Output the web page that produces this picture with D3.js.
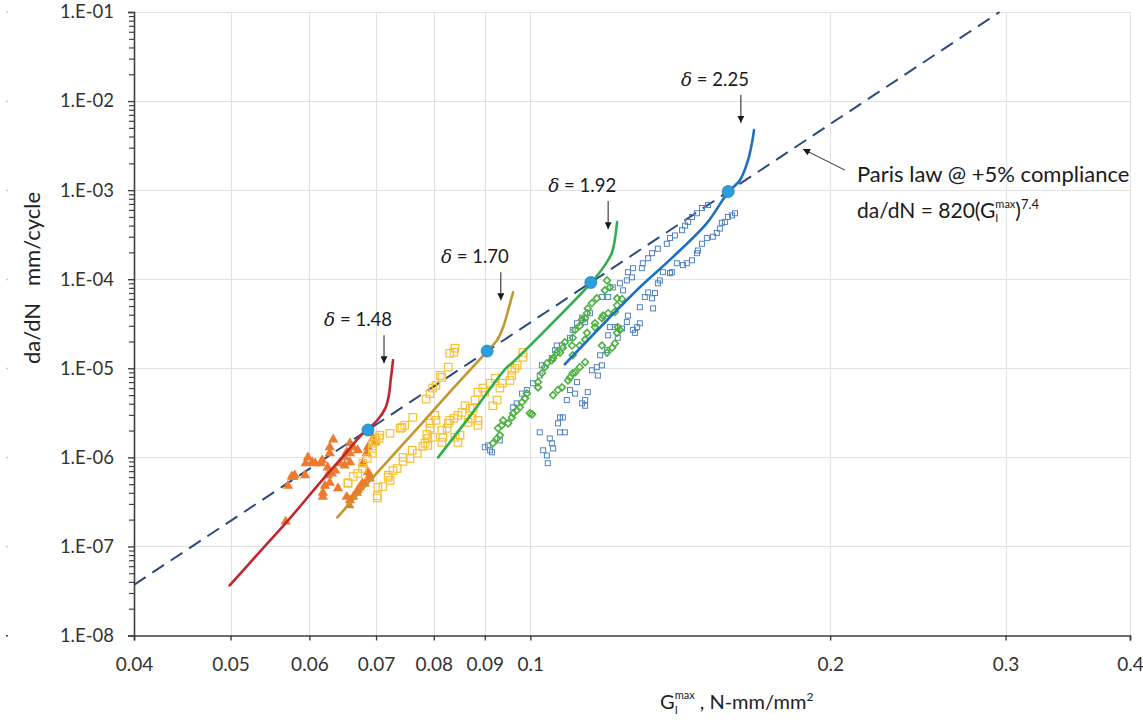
<!DOCTYPE html>
<html>
<head>
<meta charset="utf-8">
<script src="https://cdn.jsdelivr.net/npm/d3@7"></script>
<style>
  html, body { margin: 0; padding: 0; background: #fff; }
  svg { display: block; font-family: Lato, "Liberation Sans", sans-serif; }
</style>
</head>
<body>
<svg id="chart" width="1143" height="723"></svg>
<script>
// ---- axis values ----
const xTickValues = [0.04, 0.05, 0.06, 0.07, 0.08, 0.09, 0.1, 0.2, 0.3, 0.4];
const yDecades = [1e-8, 1e-7, 1e-6, 1e-5, 1e-4, 1e-3, 1e-2, 1e-1];
const yTickLabels = ["1.E-08", "1.E-07", "1.E-06", "1.E-05", "1.E-04", "1.E-03", "1.E-02", "1.E-01"];

// ---- Paris law @ +5% compliance: da/dN = C (G)^m ----
const parisC = 820;
const parisM = 7.4;
const parisRange = [0.04, 0.4];

// ---- onset points on the Paris law line, one per delta ----
const deltaLabels = ["1.48", "1.70", "1.92", "2.25"];
const onsetG = [0.0687, 0.0905, 0.115, 0.158];
// arrow tips above each curve end [G, da/dN]
const arrowTips = [[0.0713, 1.14e-5], [0.0934, 5.8e-5], [0.1197, 3.65e-4], [0.1627, 5.7e-3]];
const parisArrowTip = [0.1878, 2.89e-3];

// ---- fitted curves ----
const line148G = [0.0499, 0.0533, 0.0570, 0.0615, 0.0651, 0.0679, 0.0702, 0.0715, 0.0721, 0.0724, 0.0728];
const line148Rate = [3.65e-8, 8.3e-8, 1.91e-7, 5.2e-7, 1.08e-6, 1.86e-6, 2.61e-6, 3.55e-6, 4.97e-6, 7.33e-6, 1.23e-5];

const line170G = [0.0640, 0.0695, 0.0775, 0.0836, 0.0905, 0.0926, 0.0939, 0.0950, 0.0961];
const line170Rate = [2.12e-7, 5.96e-7, 2.29e-6, 5.9e-6, 1.55e-5, 2.07e-5, 2.89e-5, 4.49e-5, 7.14e-5];

const line192G = [0.0808, 0.0874, 0.0943, 0.0958, 0.1054, 0.1150, 0.1188, 0.1208, 0.1222];
const line192Rate = [1.0e-6, 3.12e-6, 9.74e-6, 1.14e-5, 3.28e-5, 9.02e-5, 1.44e-4, 2.01e-4, 4.37e-4];

const line225G = [0.1083, 0.1194, 0.1288, 0.1390, 0.1504, 0.1580, 0.1624, 0.1654, 0.1669, 0.1677];
const line225Rate = [1.11e-5, 3.46e-5, 8.13e-5, 1.77e-4, 4.26e-4, 9.5e-4, 1.30e-3, 2.17e-3, 3.37e-3, 4.72e-3];

// ---- test data [G, da/dN] ----
const pts148 = [
  [0.0568, 1.9e-7], [0.0571, 4.8e-7], [0.0576, 6.1e-7], [0.0580, 6.3e-7], [0.0578, 6.0e-7],
  [0.0594, 6.3e-7], [0.0595, 8.6e-7], [0.0598, 1.0e-6], [0.0604, 8.8e-7], [0.0608, 8.6e-7],
  [0.0616, 8.6e-7], [0.0618, 9.3e-7], [0.0626, 7.7e-7], [0.0629, 1.11e-6], [0.0629, 1.30e-6],
  [0.0634, 1.59e-6], [0.0626, 6.3e-7], [0.0622, 4.8e-7], [0.0619, 4.0e-7], [0.0619, 3.6e-7],
  [0.0629, 5.2e-7], [0.0632, 6.6e-7], [0.0637, 7.1e-7], [0.0641, 4.5e-7], [0.0644, 8.6e-7],
  [0.0651, 1.0e-6], [0.0654, 1.14e-6], [0.0659, 1.44e-6], [0.0664, 1.30e-6], [0.0671, 1.20e-6],
  [0.0659, 8.8e-7], [0.0651, 8.1e-7], [0.0659, 1.11e-6], [0.0685, 1.11e-6], [0.0687, 1.30e-6],
  [0.0695, 1.63e-6], [0.0698, 1.47e-6], [0.0679, 8.6e-7], [0.0687, 6.8e-7], [0.0682, 5.1e-7],
  [0.0678, 5.1e-7], [0.0671, 4.3e-7], [0.0670, 4.0e-7], [0.0664, 3.6e-7], [0.0659, 3.3e-7],
  [0.0658, 2.9e-7], [0.0654, 3.6e-7], [0.0674, 4.6e-7], [0.0690, 5.8e-7], [0.0690, 6.3e-7]
];

const pts170 = [
  [0.0840, 1.68e-5], [0.0830, 1.47e-5], [0.0838, 1.51e-5], [0.0827, 1.03e-5], [0.0812, 8.3e-6],
  [0.0815, 7.9e-6], [0.0804, 6.4e-6], [0.0798, 6.0e-6], [0.0793, 5.2e-6], [0.0786, 4.5e-6],
  [0.0762, 2.81e-6], [0.0743, 2.17e-6], [0.0748, 2.29e-6], [0.0723, 1.86e-6], [0.0705, 1.63e-6],
  [0.0698, 1.68e-6], [0.0695, 1.44e-6], [0.0694, 1.26e-6], [0.0694, 1.11e-6], [0.0679, 8.6e-7],
  [0.0678, 7.5e-7], [0.0664, 6.1e-7], [0.0656, 5.1e-7], [0.0671, 6.6e-7], [0.0703, 4.6e-7],
  [0.0711, 4.7e-7], [0.0702, 3.7e-7], [0.0702, 3.5e-7], [0.0720, 6.3e-7], [0.0728, 7.1e-7],
  [0.0735, 7.5e-7], [0.0745, 1.0e-6], [0.0745, 9.0e-7], [0.0761, 1.20e-6], [0.0770, 1.11e-6],
  [0.0784, 1.44e-6], [0.0780, 1.33e-6], [0.0789, 1.63e-6], [0.0787, 1.81e-6], [0.0793, 2.12e-6],
  [0.0793, 2.41e-6], [0.0804, 2.60e-6], [0.0802, 2.96e-6], [0.0815, 2.01e-6], [0.0817, 1.68e-6],
  [0.0827, 2.41e-6], [0.0830, 2.60e-6], [0.0838, 2.74e-6], [0.0846, 2.96e-6], [0.0854, 3.2e-6],
  [0.0860, 3.8e-6], [0.0870, 3.55e-6], [0.0880, 4.4e-6], [0.0874, 2.74e-6], [0.0886, 2.29e-6],
  [0.0866, 2.47e-6], [0.0850, 1.77e-6], [0.0846, 1.47e-6], [0.0840, 1.68e-6], [0.0825, 2.12e-6],
  [0.0815, 1.47e-6], [0.0798, 1.68e-6], [0.0789, 1.36e-6], [0.0886, 5.4e-6], [0.0896, 6.0e-6],
  [0.0900, 5.4e-6], [0.0911, 6.8e-6], [0.0922, 7.7e-6], [0.0917, 3.8e-6], [0.0926, 4.4e-6],
  [0.0932, 6.0e-6], [0.0937, 6.8e-6], [0.0954, 7.3e-6], [0.0958, 8.3e-6], [0.0958, 9.5e-6],
  [0.0965, 1.0e-5], [0.0983, 1.51e-5], [0.0983, 1.33e-5], [0.0970, 1.08e-5], [0.0757, 9.7e-7],
  [0.0686, 9.7e-7], [0.0700, 1.55e-6], [0.0706, 1.77e-6], [0.0740, 2.12e-6], [0.0720, 6.0e-7],
  [0.0723, 5.5e-7], [0.0656, 5.2e-7], [0.0876, 3.55e-6], [0.0886, 2.60e-6]
];

const pts192 = [
  [0.0917, 1.44e-6], [0.0926, 1.63e-6], [0.0932, 1.77e-6], [0.0928, 2.12e-6], [0.0936, 2.29e-6],
  [0.0939, 2.6e-6], [0.0950, 2.41e-6], [0.0958, 2.81e-6], [0.0961, 3.12e-6], [0.0969, 3.37e-6],
  [0.0976, 3.65e-6], [0.0981, 4.15e-6], [0.0988, 4.6e-6], [0.0992, 5.2e-6], [0.0999, 3.12e-6],
  [0.1004, 3.04e-6], [0.1018, 6.1e-6], [0.1018, 7.0e-6], [0.1027, 8.8e-6], [0.1034, 1.03e-5],
  [0.1039, 1.14e-5], [0.1051, 1.23e-5], [0.1054, 1.3e-5], [0.1063, 1.5e-5], [0.1071, 1.5e-5],
  [0.1078, 1.7e-5], [0.1083, 1.96e-5], [0.1101, 1.8e-5], [0.1103, 2.2e-5], [0.1109, 2.7e-5],
  [0.1121, 3.0e-5], [0.1127, 3.5e-5], [0.1135, 3.65e-5], [0.1140, 4.15e-5], [0.1142, 4.7e-5],
  [0.1153, 5.4e-5], [0.1166, 6.1e-5], [0.1188, 7.5e-5], [0.1194, 9.7e-5], [0.1202, 8.1e-5],
  [0.1054, 5.0e-6], [0.1066, 5.7e-6], [0.1076, 6.1e-6], [0.1091, 7.3e-6], [0.1096, 7.9e-6],
  [0.1103, 8.8e-6], [0.1109, 9.0e-6], [0.1121, 1.03e-5], [0.1135, 1.17e-5], [0.1103, 1.4e-5],
  [0.1121, 1.8e-5], [0.1135, 2.1e-5], [0.1140, 2.5e-5], [0.1161, 2.9e-5], [0.1161, 3.2e-5],
  [0.1180, 3.65e-5], [0.1183, 3.9e-5], [0.1197, 4.15e-5], [0.1216, 4.3e-5], [0.1222, 5.1e-5],
  [0.1222, 6.1e-5], [0.1236, 6.0e-5], [0.1230, 2.7e-5], [0.1224, 2.9e-5], [0.1222, 2.5e-5],
  [0.1216, 1.9e-5], [0.1208, 1.7e-5], [0.1194, 1.5e-5], [0.1180, 1.8e-5]
];

const pts225 = [
  [0.0900, 1.30e-6], [0.0907, 1.36e-6], [0.0915, 1.14e-6], [0.0911, 1.20e-6], [0.0932, 1.55e-6],
  [0.0961, 3.65e-6], [0.0969, 4.04e-6], [0.0981, 5.2e-6], [0.0992, 5.7e-6], [0.1006, 6.8e-6],
  [0.1022, 8.3e-6], [0.1027, 1.08e-5], [0.1051, 1.3e-5], [0.1059, 1.6e-5], [0.1063, 1.8e-5],
  [0.1076, 1.8e-5], [0.1096, 2.2e-5], [0.1103, 2.7e-5], [0.1114, 3.2e-5], [0.1127, 3.7e-5],
  [0.1135, 3.3e-5], [0.1148, 4.15e-5], [0.1180, 6.3e-5], [0.1197, 6.3e-5], [0.1210, 8.1e-5],
  [0.1230, 9.0e-5], [0.1239, 7.5e-5], [0.1250, 9.7e-5], [0.1253, 1.2e-4], [0.1265, 1.05e-4],
  [0.1268, 1.33e-4], [0.1294, 1.33e-4], [0.1297, 1.51e-4], [0.1313, 1.72e-4], [0.1325, 1.96e-4],
  [0.1343, 2.2e-4], [0.1371, 2.5e-4], [0.1381, 2.9e-4], [0.1397, 3.1e-4], [0.1420, 3.55e-4],
  [0.1430, 4.0e-4], [0.1440, 4.4e-4], [0.1453, 5.0e-4], [0.1470, 5.5e-4], [0.1487, 6.3e-4],
  [0.1508, 6.8e-4],
  [0.1022, 1.91e-6], [0.1030, 1.20e-6], [0.1039, 1.05e-6], [0.1046, 1.63e-6], [0.1051, 1.44e-6],
  [0.1054, 1.26e-6], [0.1041, 8.6e-7], [0.1066, 2.41e-6], [0.1071, 2.81e-6], [0.1078, 2.81e-6],
  [0.1083, 1.91e-6], [0.1071, 1.91e-6], [0.1088, 4.4e-6], [0.1096, 5.7e-6], [0.1109, 5.2e-6],
  [0.1114, 7.0e-6], [0.1127, 4.04e-6], [0.1135, 4.4e-6], [0.1142, 5.4e-6], [0.1135, 3.8e-6],
  [0.1153, 9.5e-6], [0.1166, 1.03e-5], [0.1169, 8.3e-6], [0.1180, 1.08e-5], [0.1175, 1.4e-5],
  [0.1194, 1.6e-5], [0.1197, 2.35e-5], [0.1202, 2.9e-5], [0.1216, 2.9e-5], [0.1224, 2.2e-5],
  [0.1236, 2.8e-5], [0.1250, 3.3e-5], [0.1253, 3.9e-5], [0.1268, 2.7e-5], [0.1274, 2.5e-5],
  [0.1280, 2.9e-5], [0.1288, 3.2e-5], [0.1288, 4.85e-5], [0.1303, 6.3e-5], [0.1313, 7.1e-5],
  [0.1325, 6.1e-5], [0.1328, 4.7e-5], [0.1334, 7.0e-5], [0.1343, 9.0e-5], [0.1349, 9.7e-5],
  [0.1359, 1.2e-4], [0.1381, 1.17e-4], [0.1387, 1.2e-4], [0.1403, 1.51e-4], [0.1423, 1.44e-4],
  [0.1436, 1.51e-4], [0.1453, 1.63e-4], [0.1470, 1.96e-4], [0.1473, 2.1e-4], [0.1487, 2.5e-4],
  [0.1504, 2.9e-4], [0.1525, 3.0e-4], [0.1539, 3.3e-4], [0.1550, 3.7e-4], [0.1557, 4.3e-4],
  [0.1568, 4.4e-4], [0.1579, 5.0e-4], [0.1594, 5.2e-4], [0.1605, 5.5e-4]
];

// ---- layout ----
const plot = { left: 134, right: 1130, top: 12, bottom: 635.5 };

const svg = d3.select("#chart");

const x = d3.scaleLog().domain([0.04, 0.4]).range([plot.left, plot.right]);
const y = d3.scaleLog().domain([1e-8, 1e-1]).range([plot.bottom, plot.top]);

const paris = g => parisC * Math.pow(g, parisM);

// ---- gridlines ----
const grid = svg.append("g").attr("stroke", "#e2e2e2").attr("stroke-width", 1);
grid.selectAll("line.v").data(xTickValues.slice(1)).join("line")
  .attr("x1", d => Math.round(x(d)) + 0.5).attr("x2", d => Math.round(x(d)) + 0.5)
  .attr("y1", plot.top).attr("y2", plot.bottom);
grid.selectAll("line.h").data(yDecades.slice(1)).join("line")
  .attr("x1", plot.left).attr("x2", plot.right)
  .attr("y1", d => Math.round(y(d)) + 0.5).attr("y2", d => Math.round(y(d)) + 0.5);

// ---- Paris law line, clipped to the plot's top edge ----
const gTop = Math.pow(1e-1 / parisC, 1 / parisM);
const parisEnds = [parisRange[0], Math.min(parisRange[1], gTop)];
svg.append("line")
  .attr("x1", x(parisEnds[0])).attr("y1", y(paris(parisEnds[0])))
  .attr("x2", x(parisEnds[1])).attr("y2", y(paris(parisEnds[1])))
  .attr("stroke", "#2d4a7c").attr("stroke-width", 2)
  .attr("stroke-dasharray", "14,8");

// ---- test data markers ----
const sym = (type, size) => d3.symbol().type(type).size(size)();

svg.append("g").selectAll("path").data(pts148).join("path")
  .attr("d", sym(d3.symbolTriangle, 46))
  .attr("transform", d => `translate(${x(d[0])},${y(d[1])})`)
  .attr("fill", "#ec7a2f");

svg.append("g").selectAll("rect").data(pts170).join("rect")
  .attr("x", d => x(d[0]) - 3.75).attr("y", d => y(d[1]) - 3.75)
  .attr("width", 7.5).attr("height", 7.5)
  .attr("fill", "none").attr("stroke", "#f8c033").attr("stroke-width", 1.2);

svg.append("g").selectAll("rect").data(pts225).join("rect")
  .attr("x", d => x(d[0]) - 2.5).attr("y", d => y(d[1]) - 2.5)
  .attr("width", 5).attr("height", 5)
  .attr("fill", "none").attr("stroke", "#4f82c4").attr("stroke-width", 1);

svg.append("g").selectAll("path").data(pts192).join("path")
  .attr("d", sym(d3.symbolDiamond2, 30))
  .attr("transform", d => `translate(${x(d[0])},${y(d[1])})`)
  .attr("fill", "none").attr("stroke", "#4cb13f").attr("stroke-width", 1.6);

// ---- curves ----
const line = d3.line().x(d => x(d[0])).y(d => y(d[1])).curve(d3.curveCatmullRom.alpha(0.5));
const curves = [
  { g: line148G, r: line148Rate, color: "#c0272d" },
  { g: line170G, r: line170Rate, color: "#c4962c" },
  { g: line192G, r: line192Rate, color: "#2fae4e" },
  { g: line225G, r: line225Rate, color: "#1f70c1" }
];
svg.append("g").selectAll("path").data(curves).join("path")
  .attr("d", c => line(c.g.map((g, i) => [g, c.r[i]])))
  .attr("fill", "none").attr("stroke", c => c.color)
  .attr("stroke-width", 2.6).attr("stroke-linejoin", "round").attr("stroke-linecap", "round");

// ---- onset points ----
svg.append("g").selectAll("circle").data(onsetG).join("circle")
  .attr("cx", d => x(d)).attr("cy", d => y(paris(d)))
  .attr("r", 6)
  .attr("fill", "#2a9fdb").attr("stroke", "#1f7fb8").attr("stroke-width", 0.8);

// ---- axes ----
const axisColor = "#3f3f3f";
const minors = [];
yDecades.slice(0, -1).forEach(d => { for (let m = 2; m <= 9; m++) minors.push(d * m); });

const yMinor = svg.append("g").attr("transform", `translate(${plot.left},0)`)
  .call(d3.axisLeft(y).tickValues(minors).tickSize(5).tickFormat(""));
yMinor.select(".domain").remove();
yMinor.selectAll("line").attr("stroke", axisColor).attr("stroke-width", 1.2);

const yAxis = svg.append("g").attr("transform", `translate(${plot.left},0)`)
  .call(d3.axisLeft(y).tickValues(yDecades).tickSize(6).tickPadding(14)
    .tickFormat((d, i) => yTickLabels[i]));
yAxis.select(".domain").attr("stroke", axisColor).attr("stroke-width", 1.6);
yAxis.selectAll("line").attr("stroke", axisColor).attr("stroke-width", 1.4);
yAxis.selectAll("text").attr("font-family", "Lato, sans-serif").attr("font-size", 18.5).attr("fill", "#333");

const xAxis = svg.append("g").attr("transform", `translate(0,${plot.bottom})`)
  .call(d3.axisBottom(x).tickValues(xTickValues).tickSize(5).tickPadding(17)
    .tickFormat(d => String(d)));
xAxis.select(".domain").attr("stroke", axisColor).attr("stroke-width", 1.6);
xAxis.selectAll("line").attr("stroke", axisColor).attr("stroke-width", 1.4);
xAxis.selectAll("text").attr("font-family", "Lato, sans-serif").attr("font-size", 19).attr("fill", "#333");

// ---- axis titles ----
svg.append("text")
  .attr("transform", `translate(40,278) rotate(-90)`)
  .attr("text-anchor", "middle")
  .attr("font-size", 22).attr("fill", "#222")
  .style("white-space", "pre")
  .text("da/dN   mm/cycle");

const xt = svg.append("text").attr("x", 660).attr("y", 709)
  .attr("font-size", 20).attr("fill", "#222");
xt.append("tspan").text("G");
xt.append("tspan").attr("font-size", 11).attr("dy", 5).text("I");
xt.append("tspan").attr("font-size", 11).attr("dx", -3).attr("dy", -15).text("max");
xt.append("tspan").attr("dy", 10).style("white-space", "pre").text(" , N-mm/mm");
xt.append("tspan").attr("font-size", 12).attr("dy", -8).text("2");

// ---- arrow marker ----
svg.append("defs").append("marker")
  .attr("id", "arrowhead").attr("viewBox", "0 0 10 10")
  .attr("refX", 10).attr("refY", 5)
  .attr("markerWidth", 7).attr("markerHeight", 7)
  .attr("markerUnits", "userSpaceOnUse")
  .attr("orient", "auto")
  .append("path").attr("d", "M0,0 L10,5 L0,10 z").attr("fill", "#1a1a1a");

// ---- delta annotations ----
const ann = svg.append("g");
arrowTips.forEach((t, i) => {
  const ax = x(t[0]), ay = y(t[1]);
  ann.append("line")
    .attr("x1", ax).attr("y1", ay - 28).attr("x2", ax).attr("y2", ay)
    .attr("stroke", "#1a1a1a").attr("stroke-width", 1)
    .attr("marker-end", "url(#arrowhead)");
  const tx = ann.append("text")
    .attr("x", ax + 8).attr("y", ay - 37)
    .attr("text-anchor", "end").attr("font-size", 18.5).attr("fill", "#1a1a1a");
  tx.append("tspan").attr("font-style", "italic").attr("font-family", "'DejaVu Serif', serif").text("\u03b4");
  tx.append("tspan").style("white-space", "pre").text(" = " + deltaLabels[i]);
});

// ---- Paris law annotation ----
const px = x(parisArrowTip[0]), py = y(parisArrowTip[1]);
ann.append("line")
  .attr("x1", px + 42).attr("y1", py + 21).attr("x2", px).attr("y2", py)
  .attr("stroke", "#333").attr("stroke-width", 1)
  .attr("marker-end", "url(#arrowhead)");
ann.append("text").attr("x", 857).attr("y", 182)
  .attr("font-size", 22).attr("fill", "#1a1a1a")
  .text("Paris law @ +5% compliance");
const eq = ann.append("text").attr("x", 857).attr("y", 218)
  .attr("font-size", 21).attr("fill", "#1a1a1a");
eq.append("tspan").text(`da/dN = ${parisC}(G`);
eq.append("tspan").attr("font-size", 11).attr("dy", 4).text("I");
eq.append("tspan").attr("font-size", 11).attr("dx", -3).attr("dy", -14).text("max");
eq.append("tspan").attr("dy", 10).text(")");
eq.append("tspan").attr("font-size", 13).attr("dy", -9).text(String(parisM));

// ---- small marks at the far left edge ----
svg.append("g").selectAll("rect").data(yDecades).join("rect")
  .attr("x", 6).attr("y", d => y(d) - 0.5).attr("width", 2).attr("height", 1.5)
  .attr("fill", (d, i) => i === 0 ? "#444" : "#ccc");
</script>
</body>
</html>
